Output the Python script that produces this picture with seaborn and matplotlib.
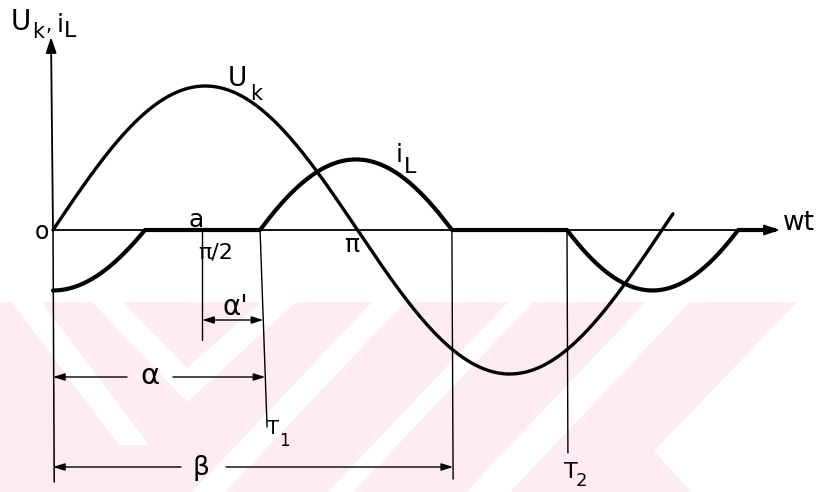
import numpy as np
import pandas as pd
import matplotlib
matplotlib.use("Agg")
import matplotlib.pyplot as plt
import seaborn as sns
from matplotlib.patches import Polygon

sns.set_theme(style="white")
plt.rcParams["font.family"] = ["DejaVu Sans"]

# ---- waveform parameters (angles in units of pi, values in units of U_k peak) ----
uk_amplitude = 1.0
uk_stop = 2.036            # where the drawn U_k trace ends

# inductor current conduction lobes
il_lobe_start = [-0.302, 0.680, 1.688]
il_lobe_end = [0.302, 1.310, 2.250]
il_lobe_peak = [-0.42, 0.49, -0.42]
il_stop = 2.37             # i_L trace continues flat up to here

# characteristic angles
half_pi = 0.49             # pi/2 marker
alpha_T1 = 0.680           # firing of T1
beta_end = 1.310           # end of T1 conduction
alpha_T2 = 1.688           # firing of T2

# ---- build the curves ----
theta_uk = np.linspace(0.0, uk_stop, 600)
uk = pd.DataFrame({"theta": theta_uk,
                   "u": uk_amplitude * np.sin(np.pi * theta_uk)})

theta_il = np.linspace(0.0, il_stop, 1200)
il_vals = np.zeros_like(theta_il)
for s, e, p in zip(il_lobe_start, il_lobe_end, il_lobe_peak):
    c = 0.5 * (s + e)
    h = 0.5 * (e - s) * np.pi
    m = (theta_il >= s) & (theta_il <= e)
    il_vals[m] = p * (np.cos(np.pi * (theta_il[m] - c)) - np.cos(h)) / (1 - np.cos(h))
il = pd.DataFrame({"theta": theta_il, "i": il_vals})

# ---- figure ----
W, H = 818, 492
fig = plt.figure(figsize=(W / 100, H / 100), dpi=100)

# background print pattern
bg = fig.add_axes([0, 0, 1, 1], zorder=0)
bg.set_xlim(0, W)
bg.set_ylim(H, 0)
bg.axis("off")
pink = "#fdecf0"
bg.add_patch(Polygon([(0, 302), (797, 302), (654, 451), (691, 492), (0, 492)],
                     closed=True, fc=pink, ec="none"))
white_bands = [
    [(12, 302), (42, 302), (149, 445), (119, 445)],
    [(92, 302), (122, 302), (187, 368), (262, 302), (296, 302), (187, 402)],
    [(372, 302), (405, 302), (225, 492), (192, 492)],
    [(508, 302), (533, 302), (353, 492), (328, 492)],
    [(646, 302), (690, 302), (510, 492), (466, 492)],
]
for band in white_bands:
    bg.add_patch(Polygon(band, closed=True, fc="white", ec="none"))

ax = fig.add_axes([0, 0, 1, 1], zorder=1)
ax.patch.set_alpha(0)
ax.axis("off")
x0, sx, y0, sy = 53, 304.5, 230, 144
ax.set_xlim(-x0 / sx, (W - x0) / sx)
ax.set_ylim((y0 - H) / sy, y0 / sy)


def at(xp, yp):
    """Screen-pixel position -> data coordinates."""
    return (xp - x0) / sx, (y0 - yp) / sy


ink = "black"

# curves
sns.lineplot(data=uk, x="theta", y="u", ax=ax, color=ink, lw=2.4,
             sort=False, estimator=None, zorder=4)
sns.lineplot(data=il, x="theta", y="i", ax=ax, color=ink, lw=3.0,
             sort=False, estimator=None, zorder=5)

# axes with arrows
ax.annotate("", xy=at(780, 230), xytext=(0, 0),
            arrowprops=dict(arrowstyle="-|>,head_length=0.95,head_width=0.32",
                            color=ink, lw=1.3, mutation_scale=10,
                            shrinkA=0, shrinkB=0), zorder=3)
ax.annotate("", xy=at(51, 37), xytext=(0, 0),
            arrowprops=dict(arrowstyle="-|>,head_length=0.95,head_width=0.32",
                            color=ink, lw=1.3, mutation_scale=10,
                            shrinkA=0, shrinkB=0), zorder=3)
ax.plot([0, 0.004], [0, at(0, 482)[1]], color=ink, lw=1.1)

# marker verticals
thin = 1.0
ax.plot([half_pi, half_pi], [0, at(0, 340)[1]], color=ink, lw=thin)
ax.plot([alpha_T1, alpha_T1 + 0.023], [0, at(0, 427)[1]], color=ink, lw=thin)
ax.plot([beta_end, beta_end + 0.004], [0, at(0, 479)[1]], color=ink, lw=thin)
ax.plot([alpha_T2, alpha_T2 + 0.003], [0, at(0, 453)[1]], color=ink, lw=thin)

dim = dict(color=ink, lw=1.0, mutation_scale=10, shrinkA=0, shrinkB=0)
head = "-|>,head_length=0.7,head_width=0.22"


def t1_x(yp):
    y = at(0, yp)[1]
    return alpha_T1 + 0.023 * y / at(0, 427)[1]


# alpha' : from pi/2 to T1
ya = at(0, 320)[1]
ax.annotate("", xy=(t1_x(320), ya), xytext=(half_pi, ya),
            arrowprops=dict(arrowstyle="<|-|>,head_length=0.7,head_width=0.22", **dim))
# alpha : from origin to T1, split around the symbol
yb = at(0, 377)[1]
ax.annotate("", xy=(0, yb), xytext=(at(127, 0)[0], yb),
            arrowprops=dict(arrowstyle=head, **dim))
ax.annotate("", xy=(t1_x(377), yb), xytext=(at(173, 0)[0], yb),
            arrowprops=dict(arrowstyle=head, **dim))
# beta : from origin to end of conduction
yc = at(0, 467)[1]
ax.annotate("", xy=(0, yc), xytext=(at(181, 0)[0], yc),
            arrowprops=dict(arrowstyle=head, **dim))
ax.annotate("", xy=(beta_end + 0.004, yc), xytext=(at(226, 0)[0], yc),
            arrowprops=dict(arrowstyle=head, **dim))


# ---- labels ----
def label(s, xp, yp, size, **kw):
    ax.text(*at(xp, yp), s, fontsize=size, color=ink, ha=kw.pop("ha", "left"),
            va=kw.pop("va", "baseline"), **kw)


# vertical axis title: U_k, i_L
label("U", 11, 30, 20)
label("k", 32, 38, 15)
label(",", 46, 31, 14)
label("i", 57, 32, 18)
label("L", 64, 37, 16)

# curve names
label("U", 228, 86, 19)
label("k", 250, 100, 15)
label("i", 396, 162, 18)
label("L", 404, 173, 16)

# horizontal axis
label("wt", 783, 230, 19)
label("o", 35, 239, 17)
label("a", 189, 227, 18)
label("π/2", 198, 259, 16)
label("π", 344, 252, 18)

# dimension symbols
label("α'", 222, 315, 20)
label("α", 150, 376, 21, ha="center", va="center")
label("β", 201, 468, 19, ha="center", va="center")
label("T", 267, 434, 14)
label("1", 279, 446, 12)
label("T", 564, 478, 16)
label("2", 576, 486, 13)

fig.savefig("out.png", dpi=100)
